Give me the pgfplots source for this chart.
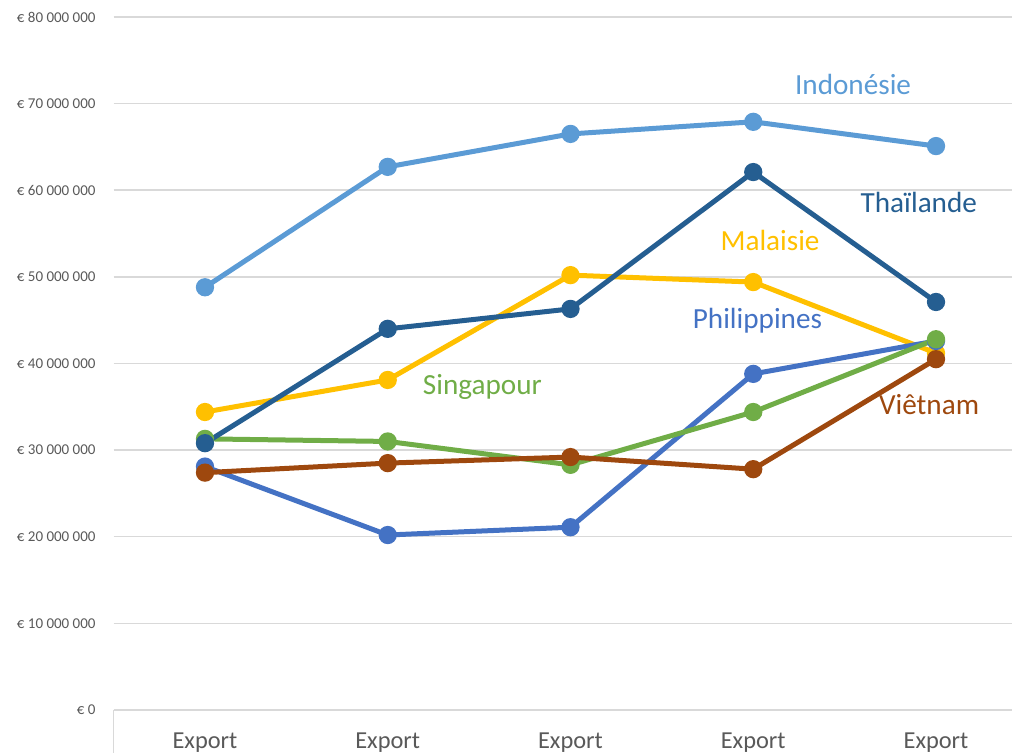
\documentclass[border=0pt]{standalone}
\usepackage{pgfplots}
\pgfplotsset{compat=1.18}
\usepackage{fontspec}
\setmainfont{Carlito}
\definecolor{cIndo}{HTML}{5B9BD5}
\definecolor{cThai}{HTML}{255E91}
\definecolor{cMal}{HTML}{FFC000}
\definecolor{cPhil}{HTML}{4472C4}
\definecolor{cSing}{HTML}{70AD47}
\definecolor{cViet}{HTML}{9E480E}
\definecolor{cGrid}{HTML}{D9D9D9}
\definecolor{cTxt}{HTML}{595959}
\begin{document}
\begin{tikzpicture}
\path[use as bounding box] (-56.8pt,-21.5pt) rectangle (449.2pt,355pt);
\clip (-56.8pt,-21.5pt) rectangle (449.2pt,355pt);
\begin{axis}[
  at={(0pt,0pt)}, anchor=south west,
  scale only axis,
  width=456.9pt, height=346.5pt,
  xmin=-0.5, xmax=4.5, ymin=0, ymax=80000000,
  xtick={0,1,2,3,4},
  xticklabels={Export,Export,Export,Export,Export},
  ytick={0,10000000,20000000,30000000,40000000,50000000,60000000,70000000,80000000},
  yticklabels={€ 0,€ 10 000 000,€ 20 000 000,€ 30 000 000,€ 40 000 000,€ 50 000 000,€ 60 000 000,€ 70 000 000,€ 80 000 000},
  scaled y ticks=false,
  ymajorgrids,
  major grid style={draw=cGrid, line width=0.75pt},
  axis line style={draw=none},
  major tick length=0pt,
  xticklabel style={font=\fontsize{12.2}{14}\selectfont, text=cTxt, yshift=-8pt},
  yticklabel style={font=\fontsize{7.5}{9}\selectfont, text=cTxt, xshift=-5.5pt},
  every axis plot/.append style={line width=2.5pt, mark=*, mark size=3.3pt},
  clip=false,
]
\draw[cGrid, line width=0.75pt] (rel axis cs:0,0) -- ([yshift=-30pt]rel axis cs:0,0);
\addplot[color=cMal, mark options={fill=cMal, draw=cMal}] coordinates {(0,34400000) (1,38100000) (2,50200000) (3,49400000) (4,41200000)};
\addplot[color=cPhil, mark options={fill=cPhil, draw=cPhil}] coordinates {(0,28100000) (1,20200000) (2,21100000) (3,38800000) (4,42600000)};
\addplot[color=cSing, mark options={fill=cSing, draw=cSing}] coordinates {(0,31300000) (1,31000000) (2,28300000) (3,34400000) (4,42800000)};
\addplot[color=cViet, mark options={fill=cViet, draw=cViet}] coordinates {(0,27400000) (1,28500000) (2,29200000) (3,27800000) (4,40500000)};
\addplot[color=cThai, mark options={fill=cThai, draw=cThai}] coordinates {(0,30800000) (1,44000000) (2,46300000) (3,62100000) (4,47100000)};
\addplot[color=cIndo, mark options={fill=cIndo, draw=cIndo}] coordinates {(0,48800000) (1,62700000) (2,66500000) (3,67900000) (4,65100000)};
\node[anchor=base, text=cIndo, font=\fontsize{14.6}{16}\selectfont] at (axis cs:3.546,71000000) {Indonésie};
\node[anchor=base, text=cThai, font=\fontsize{14.6}{16}\selectfont] at (axis cs:3.906,57400000) {Thaïlande};
\node[anchor=base, text=cMal, font=\fontsize{14.6}{16}\selectfont] at (axis cs:3.092,53100000) {Malaisie};
\node[anchor=base, text=cPhil, font=\fontsize{14.6}{16}\selectfont] at (axis cs:3.023,44000000) {Philippines};
\node[anchor=base, text=cSing, font=\fontsize{14.6}{16}\selectfont] at (axis cs:1.518,36400000) {Singapour};
\node[anchor=base, text=cViet, font=\fontsize{14.6}{16}\selectfont] at (axis cs:3.962,34100000) {Viêtnam};
\end{axis}
\end{tikzpicture}
\end{document}
